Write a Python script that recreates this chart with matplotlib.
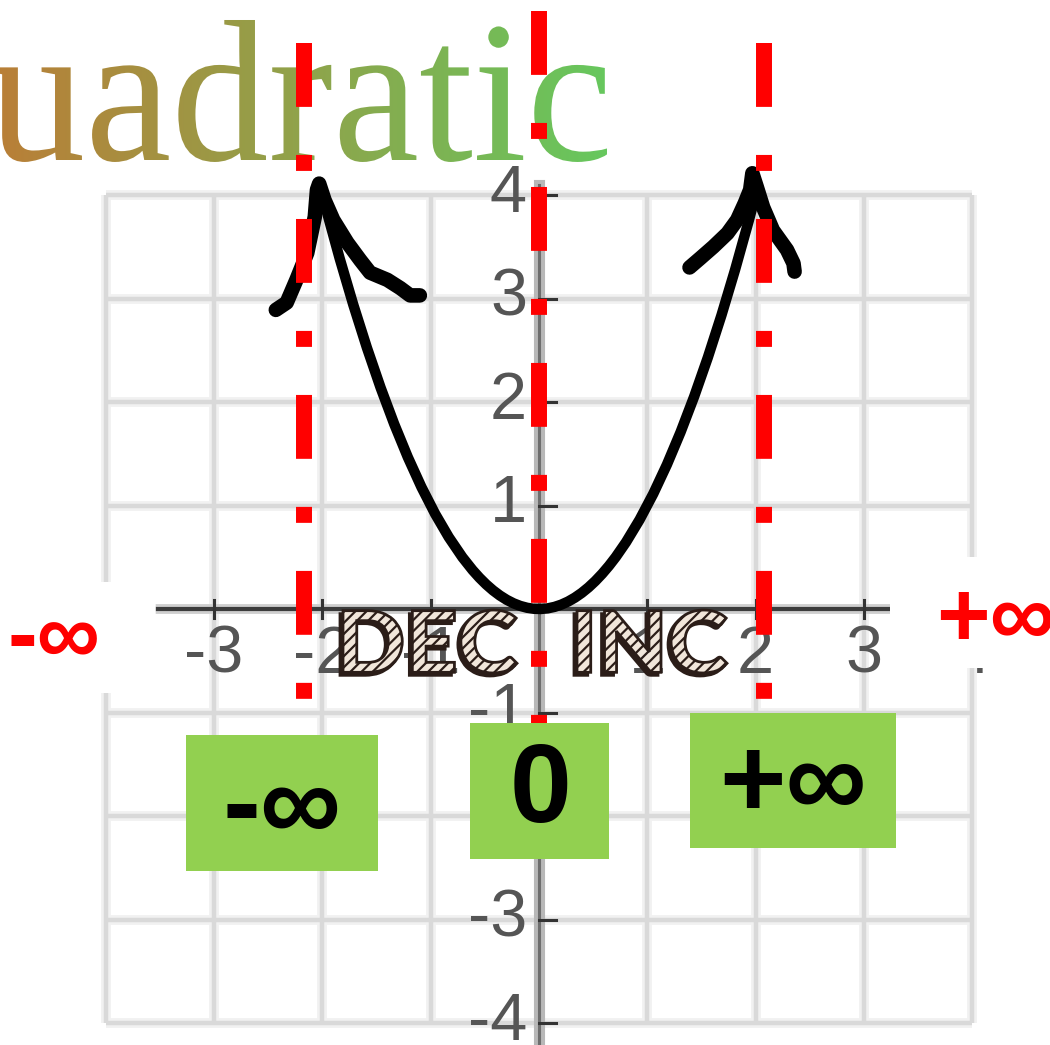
import numpy as np
import matplotlib.pyplot as plt
from matplotlib.colors import LinearSegmentedColormap
from matplotlib.font_manager import FontProperties
from matplotlib.patches import PathPatch, Rectangle
from matplotlib.path import Path
from matplotlib.textpath import TextPath
from matplotlib.transforms import Affine2D

plt.rcParams['lines.scale_dashes'] = False
plt.rcParams['hatch.linewidth'] = 1.6

# y = x^2 as drawn: both ends of the curve and its vertex
curve_start = (-2.03, 4.12)
curve_vertex = (-0.015, 0.0)
curve_end = (2.0, 4.0)

# hand-drawn arrow heads at both ends of the curve
left_arrow_x = [-2.43, -2.33, -2.24, -2.14, -2.07, -2.05, -2.03, -1.98,
                -1.90, -1.77, -1.65, -1.56, -1.40, -1.28, -1.19, -1.10]
left_arrow_y = [2.89, 2.96, 3.18, 3.44, 3.79, 4.05, 4.11, 3.95,
                3.76, 3.54, 3.37, 3.25, 3.18, 3.10, 3.03, 3.03]
right_arrow_x = [1.39, 1.49, 1.61, 1.74, 1.83, 1.90, 1.95, 1.97,
                 2.01, 2.07, 2.16, 2.29, 2.35, 2.36]
right_arrow_y = [3.30, 3.39, 3.50, 3.63, 3.76, 3.92, 4.05, 4.21,
                 4.08, 3.88, 3.66, 3.47, 3.34, 3.26]

# red dash-dot guides
guide_x = [-2.17, 0.0, 2.08]
guide_top = [5.47, 5.78, 5.47]
guide_bottom = [-0.87, -1.25, -0.87]

tick_values = [-4, -3, -2, -1, 1, 2, 3, 4]
grid_values = [-4, -3, -2, -1, 0, 1, 2, 3, 4]

box_labels = ['-\u221e', '0', '+\u221e']
side_labels = ['-\u221e', '+\u221e']
title_word = 'Quadratic'
trend_words = ['DEC', 'INC']

# pixel calibration of the graph paper
W, H = 1050, 1045
X0, Y0 = 539, 609
UX, UY = 108.3, 103.5


def px(x, y):
    return (x - X0) / UX, (Y0 - y) / UY


def fit_path(s, prop, box, ax):
    # glyph outline stretched into a pixel box (left, top, right, bottom)
    tp = TextPath((0, 0), s, size=100, prop=prop)
    bb = tp.get_extents()
    l, t, r, b = box
    dl, db = ax.transData.transform(px(l, b))
    dr, dt = ax.transData.transform(px(r, t))
    tr = Affine2D().translate(-bb.x0, -bb.y0).scale((dr - dl) / bb.width,
                                                    (dt - db) / bb.height)
    return tp, tr.translate(dl, db)


def main():
    fig = plt.figure(figsize=(W / 100, H / 100), dpi=100)
    ax = fig.add_axes([0, 0, 1, 1])
    ax.axis('off')

    # title with an orange-to-green fill
    serif = FontProperties(family='Liberation Serif')
    tp = TextPath((0, 0), title_word, size=1, prop=serif)
    bb = tp.get_extents()
    em = 194
    rx, by = 607, H - 160
    tr = Affine2D().scale(em, em * 1.04).translate(rx - bb.x1 * em, by)
    title_patch = PathPatch(tp, transform=tr, facecolor='none',
                            edgecolor='none')
    ax.add_patch(title_patch)
    cmap = LinearSegmentedColormap.from_list('title', ['#ba7e37', '#66c85e'])
    ramp = np.linspace(0, 1, 256)[None, :]
    (gl, gt), (gr, gb) = px(-10, 0), px(612, 200)
    im = ax.imshow(ramp, cmap=cmap, extent=(gl, gr, gb, gt), aspect='auto',
                   zorder=5)
    im.set_clip_path(title_patch)

    ax.set_xlim(-X0 / UX, (W - X0) / UX)
    ax.set_ylim(-(H - Y0) / UY, Y0 / UY)

    # grid paper
    for g in grid_values:
        ax.plot([g, g], [-4, 4], color='#f1f1f1', lw=7, zorder=1,
                solid_capstyle='butt')
        ax.plot([-4, 4], [g, g], color='#f1f1f1', lw=7, zorder=1,
                solid_capstyle='butt')
    for g in grid_values:
        ax.plot([g, g], [-4, 4], color='#d9d9d9', lw=3.2, zorder=1.1,
                solid_capstyle='butt')
        ax.plot([-4, 4], [g, g], color='#d9d9d9', lw=3.2, zorder=1.1,
                solid_capstyle='butt')

    # axes
    ax.plot([0, 0], [4.1, -4.4], color='#b8b8b8', lw=8, zorder=2)
    ax.plot([0, 0], [4.1, -4.4], color='#6e6e6e', lw=2.2, zorder=2.1)
    ax.plot([-3.54, 3.25], [0, 0], color='#cfcfcf', lw=7, zorder=2,
            solid_capstyle='butt')
    ax.plot([-3.54, 3.25], [0, 0], color='#3c3c3c', lw=3, zorder=2.1,
            solid_capstyle='butt')
    for v in tick_values:
        ax.plot([v, v], [0.09, -0.09], color='#333333', lw=2.2, zorder=2.2)
        ax.plot([0, 0.16], [v, v], color='#333333', lw=2.2, zorder=2.2)

    tick_font = dict(family='Liberation Sans', fontsize=48, color='#555555',
                     zorder=3)
    for v in tick_values:
        ax.text(v, -0.45, str(v), ha='center', va='center', **tick_font)
        ax.text(-0.11, v, str(v), ha='right', va='center', **tick_font)

    # the parabola as a quadratic Bezier through its ends and vertex
    p0, p2 = np.array(curve_start), np.array(curve_end)
    p1 = 2 * np.array(curve_vertex) - (p0 + p2) / 2
    parabola = Path([p0, p1, p2], [Path.MOVETO, Path.CURVE3, Path.CURVE3])
    ax.add_patch(PathPatch(parabola, facecolor='none', edgecolor='black',
                           lw=7.5, capstyle='round', zorder=4))
    for xs, ys in [(left_arrow_x, left_arrow_y),
                   (right_arrow_x, right_arrow_y)]:
        ax.plot(xs, ys, color='black', lw=10.5, zorder=4.5,
                solid_capstyle='round', solid_joinstyle='round')

    for gx, gtop, gbot in zip(guide_x, guide_top, guide_bottom):
        ax.plot([gx, gx], [gtop, gbot], color='#ff0000', lw=11.5,
                dashes=(46, 34.6, 11.5, 34.6), dash_capstyle='butt',
                zorder=6)

    # striped DEC / INC lettering with a dark drop shadow
    heavy = FontProperties(family='Lato', weight='black')
    for word, box in zip(trend_words, [(343, 610, 517, 673),
                                       (577, 610, 727, 673)]):
        tp, tr = fit_path(word, heavy, box, ax)
        ax.add_patch(PathPatch(tp, transform=tr + Affine2D().translate(-3, -3),
                               facecolor='#2b1d18', edgecolor='#2b1d18',
                               lw=2, zorder=7))
        ax.add_patch(PathPatch(tp, transform=tr, facecolor='#f1e6da',
                               edgecolor='#2b1d18', hatch='///', lw=2,
                               zorder=7.1))

    # white patches behind the side labels
    for l, t, r, b in [(0, 582, 155, 693), (890, 557, 1050, 668)]:
        (x0, y1), (x1, y0) = px(l, t), px(r, b)
        ax.add_patch(Rectangle((x0, y0), x1 - x0, y1 - y0, facecolor='white',
                               edgecolor='none', zorder=8))
    sym_font = dict(family=['Liberation Sans', 'DejaVu Sans'],
                    fontweight='bold', zorder=9)
    ax.text(*px(54, 641), side_labels[0], ha='center', va='center',
            color='#ff0000', fontsize=64, **sym_font)
    ax.text(*px(936, 622), side_labels[1], ha='left', va='center',
            color='#ff0000', fontsize=66, **sym_font)

    # green answer boxes
    boxes = [(186, 735, 378, 871), (470, 723, 609, 859), (690, 713, 896, 848)]
    label_at = [(282, 812), (540, 793), (793, 788)]
    sizes = [82, 80, 82]
    for (l, t, r, b), (lx, ly), lab, fs in zip(boxes, label_at, box_labels,
                                               sizes):
        (x0, y1), (x1, y0) = px(l, t), px(r, b)
        ax.add_patch(Rectangle((x0, y0), x1 - x0, y1 - y0,
                               facecolor='#92d050', edgecolor='none',
                               zorder=8))
        ax.text(*px(lx, ly), lab, ha='center', va='center', color='black',
                fontsize=fs, **sym_font)

    fig.savefig('out.png', dpi=100, facecolor='white')


if __name__ == '__main__':
    main()
